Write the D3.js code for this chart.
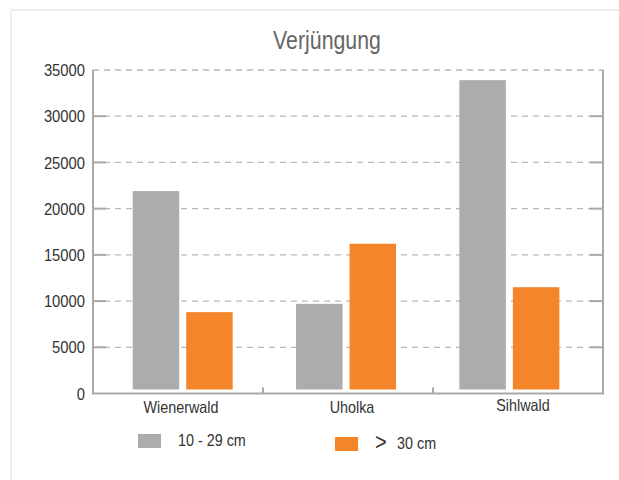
<!DOCTYPE html>
<html>
<head>
<meta charset="utf-8">
<script src="https://cdn.jsdelivr.net/npm/d3@7"></script>
<style>
  html, body { margin: 0; padding: 0; background: #fff; }
  svg { display: block; }
  text { font-family: "Liberation Sans", Arial, sans-serif; }
</style>
</head>
<body>
<svg id="chart" width="619" height="480"></svg>
<script>
// ---- data ----
const title = "Verjüngung";
const categories = ["Wienerwald", "Uholka", "Sihlwald"];
const seriesNames = ["10 - 29 cm", "> 30 cm"];
const values10to29 = [21900, 9700, 33900];
const valuesOver30 = [8800, 16200, 11500];
const yTicks = [0, 5000, 10000, 15000, 20000, 25000, 30000, 35000];
const seriesColors = ["#abacae", "#f4852a"];

const seriesValues = [values10to29, valuesOver30];

(function () {
const svg = d3.select("#chart");
const SX = 0.87; // horizontal condensing of text

// outer frame
svg.append("rect")
  .attr("x", 11).attr("y", 10).attr("width", 640).attr("height", 500)
  .attr("fill", "none").attr("stroke", "#eeeeee").attr("stroke-width", 2);

const pLeft = 93, pRight = 603, pTop = 70, pBottom = 393.5;

const y = d3.scaleLinear().domain([0, 35000]).range([pBottom, pTop]);
const xAxisScale = d3.scaleBand().domain(categories).range([pLeft, pRight]);
const xGroup = d3.scaleBand().domain(categories).range([113, 603]);
const xSeries = d3.scaleBand().domain(seriesNames).range([19.7, 119.7]).paddingInner(0.131);
const xLabel = d3.scalePoint().domain(categories).range([181, 523]);

// gridlines
svg.append("g").selectAll("line").data(yTicks.filter(d => d > 0)).join("line")
  .attr("x1", pLeft).attr("x2", pRight)
  .attr("y1", d => y(d)).attr("y2", d => y(d))
  .attr("stroke", "#b8b8b8").attr("stroke-width", 1.3)
  .attr("stroke-dasharray", "6,5");

// bars
const barData = [];
categories.forEach((c, i) => {
  seriesNames.forEach((s, j) => barData.push({ cat: c, ser: s, v: seriesValues[j][i], color: seriesColors[j] }));
});
svg.append("g").selectAll("rect").data(barData).join("rect")
  .attr("x", d => xGroup(d.cat) + xSeries(d.ser))
  .attr("width", xSeries.bandwidth())
  .attr("y", d => y(d.v))
  .attr("height", d => y(0) - 4 - y(d.v))
  .attr("fill", d => d.color);

// axes frame
const axisColor = "#a9a9ab";
const axes = svg.append("g").attr("stroke", axisColor).attr("stroke-width", 2).attr("fill", "none");
axes.append("line").attr("x1", pLeft).attr("x2", pLeft).attr("y1", y(35000)).attr("y2", pBottom);
axes.append("line").attr("x1", pRight).attr("x2", pRight).attr("y1", y(35000)).attr("y2", pBottom);
axes.append("line").attr("x1", pLeft - 1).attr("x2", pRight + 1).attr("y1", pBottom).attr("y2", pBottom);
const inner = yTicks.filter(d => d > 0 && d < 35000);
axes.selectAll(".lt").data(inner).join("line").attr("class", "lt")
  .attr("x1", pLeft).attr("x2", pLeft + 13).attr("y1", d => y(d)).attr("y2", d => y(d));
axes.selectAll(".rt").data(inner).join("line").attr("class", "rt")
  .attr("x1", pRight - 13).attr("x2", pRight).attr("y1", d => y(d)).attr("y2", d => y(d));
axes.selectAll(".ct").data(categories.slice(1)).join("line").attr("class", "ct")
  .attr("x1", d => xAxisScale(d)).attr("x2", d => xAxisScale(d))
  .attr("y1", pBottom).attr("y2", pBottom - 6);

// y tick labels
svg.append("g").selectAll("text").data(yTicks).join("text")
  .attr("transform", d => `translate(85,${y(d)}) scale(${SX},1)`)
  .attr("dy", "0.36em")
  .attr("text-anchor", "end")
  .attr("font-size", 17)
  .attr("fill", "#333")
  .text(d => d);

// category labels
svg.append("g").selectAll("text").data(categories).join("text")
  .attr("transform", (d, i) => `translate(${xLabel(d)},${i === 2 ? 411 : 413}) scale(${SX},1)`)
  .attr("text-anchor", "middle")
  .attr("font-size", 16.5)
  .attr("fill", "#333")
  .text(d => d);

// title
svg.append("text")
  .attr("transform", `translate(327,49) scale(0.82,1)`)
  .attr("text-anchor", "middle")
  .attr("font-size", 26)
  .attr("fill", "#666")
  .text(title);

// legend
const legendX = [138, 335];
const legendY = [434, 437];
const lg = svg.append("g").selectAll("g").data(seriesNames).join("g");
lg.append("rect")
  .attr("x", (d, i) => legendX[i]).attr("y", (d, i) => legendY[i])
  .attr("width", 23).attr("height", 14)
  .attr("fill", (d, i) => seriesColors[i]);
lg.append("text")
  .attr("transform", (d, i) => `translate(${legendX[i] + 40},${legendY[i] + 12}) scale(${SX},1)`)
  .attr("font-size", 16.5).attr("fill", "#333")
  .each(function (d) {
    const t = d3.select(this);
    if (d.startsWith(">")) {
      t.append("tspan").attr("font-size", 23).attr("dy", 1).text(">");
      t.append("tspan").attr("dx", 12).attr("dy", -1).text(d.slice(1).trim());
    } else {
      t.text(d);
    }
  });
})();
</script>
</body>
</html>
